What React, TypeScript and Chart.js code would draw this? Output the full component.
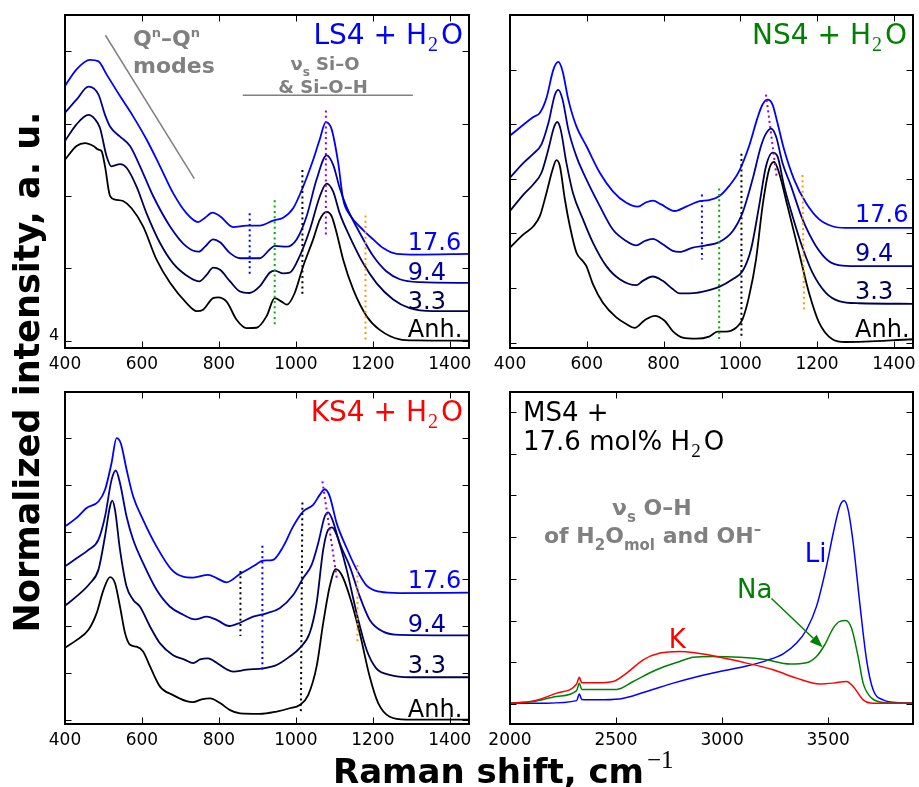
import React, { useEffect, useRef } from "react";
import { Chart, registerables } from "chart.js";
Chart.register(...registerables);

const SANS = "'DejaVu Sans', sans-serif";
const SERIF = "'Liberation Serif', serif";
const W = 919;
const H = 787;

// ---------- LS4 + H2O (top-left) ----------
const lsAnhX = [400,430,452,474,487,495,504,517,530,551,573,603,638,673,716,742,759,785,798,820,846,872,898,924,945,963,977,997,1019,1045,1062,1080,1093,1106,1123,1149,1184,1218,1270,1313,1450];
const lsAnhY = [2.50,2.69,2.73,2.69,2.64,2.62,2.41,2.00,1.95,1.93,1.83,1.58,1.12,0.80,0.52,0.41,0.43,0.59,0.60,0.54,0.29,0.175,0.18,0.34,0.59,0.54,0.50,0.66,1.03,1.40,1.67,1.78,1.72,1.49,1.12,0.71,0.34,0.15,0.02,0.005,0];
const ls33X = [400,430,461,478,491,508,521,543,560,586,612,647,681,725,749,768,785,803,829,855,880,906,932,945,967,984,1010,1036,1062,1080,1097,1114,1140,1175,1209,1253,1296,1357,1450];
const ls33Y = [2.76,2.99,3.12,3.06,2.94,2.55,2.41,2.44,2.39,2.13,1.76,1.35,1.07,0.87,0.82,0.91,1.01,0.98,0.82,0.68,0.66,0.75,0.94,0.97,0.93,0.94,1.17,1.53,1.99,2.17,2.06,1.76,1.44,1.07,0.80,0.57,0.45,0.41,0.41];
const ls94X = [400,430,461,487,504,517,543,569,595,629,673,716,748,764,785,803,829,855,906,932,945,976,1002,1028,1054,1080,1097,1114,1131,1166,1201,1235,1270,1322,1450];
const ls94Y = [3.15,3.33,3.51,3.40,3.12,2.96,2.82,2.69,2.41,2.00,1.58,1.30,1.23,1.30,1.40,1.36,1.21,1.14,1.14,1.26,1.31,1.30,1.40,1.72,2.23,2.56,2.43,2.11,1.86,1.49,1.17,0.96,0.85,0.81,0.80];
const ls176X = [400,430,465,487,508,543,577,612,647,681,716,746,764,783,803,837,872,906,941,967,993,1019,1045,1062,1078,1093,1110,1123,1140,1175,1201,1227,1262,1313,1450];
const ls176Y = [3.52,3.75,3.88,3.86,3.68,3.38,3.10,2.78,2.41,2.04,1.76,1.64,1.70,1.77,1.72,1.57,1.59,1.59,1.66,1.70,1.83,2.13,2.50,2.78,3.02,2.92,2.46,1.95,1.74,1.53,1.40,1.28,1.20,1.19,1.20];

// ---------- NS4 + H2O (top-right) ----------
const nsAnhX = [400,435,461,478,495,511,521,530,543,556,573,590,599,616,642,677,703,725,751,777,803,824,850,885,919,941,963,989,1006,1023,1041,1058,1075,1088,1101,1123,1153,1179,1205,1240,1274,1450];
const nsAnhY = [1.74,1.98,2.13,2.32,2.74,3.17,3.34,3.23,2.62,2.13,1.65,1.49,1.40,1.07,0.73,0.46,0.34,0.27,0.41,0.49,0.40,0.21,0.09,0.07,0.11,0.20,0.20,0.27,0.43,0.85,1.52,2.50,3.17,3.31,3.11,2.50,1.65,0.91,0.37,0.06,0.01,0.06];
const ns33X = [400,435,461,482,500,514,523,532,547,564,590,616,651,686,729,746,772,798,824,842,885,919,945,980,1006,1028,1049,1067,1084,1097,1114,1136,1162,1188,1223,1257,1309,1450];
const ns33Y = [2.41,2.71,2.90,3.11,3.54,3.93,4.04,3.90,3.29,2.74,2.26,1.83,1.40,1.16,1.05,1.13,1.21,1.13,0.98,0.90,0.91,0.96,1.02,1.16,1.31,1.71,2.50,3.23,3.48,3.41,2.87,2.32,1.74,1.28,0.91,0.76,0.72,0.71];
const ns94X = [400,435,461,482,500,517,526,537,552,573,599,634,668,703,729,751,772,798,824,842,876,911,945,980,1006,1032,1054,1068,1080,1093,1110,1132,1162,1197,1231,1266,1318,1450];
const ns94Y = [3.02,3.29,3.46,3.63,4.02,4.54,4.63,4.45,3.90,3.41,2.99,2.50,2.07,1.86,1.78,1.86,1.90,1.80,1.68,1.66,1.74,1.78,1.84,2.04,2.38,2.99,3.60,3.84,3.92,3.78,3.29,2.87,2.26,1.77,1.49,1.41,1.40,1.40];
const ns176X = [400,435,461,478,495,513,526,537,552,573,599,634,668,703,733,755,772,794,829,859,894,919,945,971,997,1023,1045,1058,1071,1084,1097,1114,1140,1171,1205,1240,1274,1450];
const ns176Y = [3.79,3.99,4.13,4.21,4.48,5.00,5.14,4.97,4.45,3.96,3.60,3.11,2.77,2.56,2.49,2.57,2.60,2.53,2.41,2.49,2.59,2.61,2.68,2.87,3.14,3.60,4.12,4.36,4.45,4.36,4.02,3.54,2.99,2.56,2.26,2.13,2.10,2.10];

// ---------- KS4 + H2O (bottom-left) ----------
const ksAnhX = [400,430,461,482,500,517,530,543,556,569,586,603,621,647,681,716,733,755,777,803,829,855,906,950,984,1010,1032,1054,1071,1088,1104,1119,1140,1166,1192,1214,1244,1287,1450];
const ksAnhY = [1.54,1.70,1.92,2.27,2.77,3.04,2.91,2.41,1.85,1.60,1.56,1.46,1.14,0.71,0.53,0.40,0.38,0.44,0.46,0.36,0.21,0.14,0.13,0.18,0.25,0.32,0.53,1.14,2.06,2.84,3.21,3.09,2.63,1.85,0.92,0.36,0.07,0.01,0.01];
const ks33X = [400,430,465,487,504,517,523,530,543,560,577,595,621,647,681,712,733,751,772,794,820,837,872,915,950,984,1010,1036,1054,1071,1084,1094,1106,1132,1158,1184,1209,1244,1296,1450];
const ks33Y = [2.43,2.63,2.91,3.20,3.91,4.55,4.67,4.47,3.62,2.84,2.56,2.41,1.99,1.63,1.38,1.28,1.21,1.29,1.31,1.22,1.08,1.03,1.07,1.10,1.17,1.35,1.53,1.85,2.49,3.62,4.05,4.10,3.94,3.20,2.27,1.49,1.10,0.96,0.91,0.91];
const ks94X = [400,430,461,487,504,521,532,543,560,577,603,638,673,707,738,768,794,827,855,889,924,958,993,1019,1041,1058,1075,1084,1095,1114,1140,1166,1192,1227,1270,1450];
const ks94Y = [3.27,3.44,3.62,3.84,4.33,5.11,5.31,5.04,4.33,3.84,3.34,2.77,2.41,2.24,2.14,2.20,2.13,2.00,2.07,2.20,2.27,2.38,2.66,3.02,3.30,3.76,4.33,4.42,4.26,3.76,3.27,2.63,2.13,1.88,1.81,1.80];
const ks176X = [400,430,456,487,504,521,534,545,560,577,603,638,677,707,733,772,794,820,855,889,915,941,967,993,1019,1045,1062,1075,1088,1106,1132,1158,1184,1218,1270,1450];
const ks176Y = [4.12,4.30,4.51,4.65,4.90,5.47,6.00,5.89,5.33,4.76,4.26,3.69,3.20,3.05,3.03,3.09,3.02,2.93,3.11,3.27,3.39,3.41,3.69,4.12,4.44,4.58,4.79,4.91,4.76,4.19,3.66,3.20,2.86,2.73,2.70,2.71];

// ---------- MS4 + 17.6 mol% H2O, O-H region (bottom-right) ----------
const liX = [2000,2173,2314,2327,2338,2408,2518,2644,2770,2895,2990,3115,3209,3288,3351,3398,3445,3492,3524,3555,3575,3594,3618,3649,3681,3712,3759,3838,3900];
const liY = [0.02,0.02,0.08,0.24,0.11,0.10,0.12,0.30,0.50,0.67,0.78,0.91,1.04,1.20,1.46,1.78,2.34,3.30,4.10,4.74,4.87,4.66,3.86,2.42,1.06,0.34,0.10,0.03,0.02];
const naX = [2000,2110,2220,2314,2327,2338,2408,2503,2581,2691,2801,2864,2958,3084,3209,3319,3398,3445,3484,3524,3555,3583,3610,3641,3665,3705,3775,3900];
const naY = [0.02,0.06,0.18,0.32,0.50,0.35,0.35,0.35,0.54,0.82,1.02,1.12,1.14,1.12,1.06,0.96,0.99,1.14,1.42,1.82,1.98,2.00,1.82,1.14,0.50,0.14,0.03,0.02];
const kX = [2000,2110,2220,2314,2327,2338,2408,2487,2550,2628,2707,2801,2880,2990,3115,3241,3351,3461,3524,3587,3618,3665,3712,3900];
const kY = [0.02,0.07,0.26,0.48,0.64,0.51,0.51,0.54,0.74,1.06,1.22,1.26,1.22,1.12,0.98,0.82,0.62,0.48,0.50,0.54,0.42,0.10,0.02,0.02];

// ---------- ticks and labels ----------
const silicateTicksX = [400, 600, 800, 1000, 1200, 1400];
const ohTicksX = [2000, 2500, 3000, 3500];
const lsTicksY = [0, 1, 2, 3, 4];
const nsTicksY = [0, 1, 2, 3, 4, 5];
const ksTicksY = [0, 1, 2, 3, 4, 5, 6];
const msTicksY = [0, 1, 2, 3, 4, 5, 6, 7];
const waterLabels = ["17.6", "9.4", "3.3", "Anh."];
const metalLabels = ["Li", "Na", "K"];

// marker lines (dotted) : [x0, x1], [y0, y1]
const lsMarkX = [[880, 880], [945, 945], [1017, 1017], [1078, 1078], [1181, 1181]];
const lsMarkY = [[1.76, 0.90], [1.94, 0.21], [2.36, 0.64], [3.18, 1.44], [1.73, 0.0]];
const nsMarkX = [[900, 900], [945, 945], [1003, 1003], [1067, 1095], [1162, 1166]];
const nsMarkY = [[2.71, 1.52], [2.82, 0.06], [3.46, 0.09], [4.54, 3.02], [3.07, 0.61]];
const ksMarkX = [[856, 856], [913, 913], [1017, 1013], [1069, 1107], [1160, 1160]];
const ksMarkY = [[3.17, 1.79], [3.71, 1.01], [4.63, 0.18], [5.08, 2.98], [3.30, 1.67]];

const M_BLUE = "#0000ff";
const M_GREEN = "#00b000";
const M_BLACK = "#000000";
const M_PURPLE = "#9400d3";
const M_ORANGE = "#ff9900";
const lsMarkC = [M_BLUE, M_GREEN, M_BLACK, M_PURPLE, M_ORANGE];
const nsMarkC = [M_BLUE, M_GREEN, M_BLACK, M_PURPLE, M_ORANGE];
const ksMarkC = [M_BLACK, M_BLUE, M_BLACK, M_PURPLE, M_ORANGE];

const C_ANH = "#000000";
const C_33 = "#000050";
const C_94 = "#0000a0";
const C_176 = "#0000ff";
const GRAY = "#808080";
const DASH = "\u2013";

type Seg = { t: string; size: number; weight?: string; family?: string; dy?: number; dx?: number };

function drawSegs(ctx: CanvasRenderingContext2D, segs: Seg[], x: number, y: number, align: string, color: string) {
  ctx.save();
  ctx.fillStyle = color;
  ctx.textBaseline = "alphabetic";
  ctx.textAlign = "left";
  const fontOf = (s: Seg) => `${s.weight || "normal"} ${s.size}px ${s.family || SANS}`;
  let total = 0;
  const widths = segs.map((s) => {
    ctx.font = fontOf(s);
    const w = ctx.measureText(s.t).width + (s.dx || 0);
    total += w;
    return w;
  });
  let cx = align === "left" ? x : align === "right" ? x - total : x - total / 2;
  segs.forEach((s, i) => {
    ctx.font = fontOf(s);
    ctx.fillText(s.t, cx + (s.dx || 0), y + (s.dy || 0));
    cx += widths[i];
  });
  ctx.restore();
}

const h2oTitle = (prefix: string): Seg[] => [
  { t: prefix + " + H", size: 28 },
  { t: "2", size: 20, family: SERIF, dy: 7, dx: 1 },
  { t: "O", size: 28, dx: 3 },
];

const pts = (xs: number[], ys: number[]) => xs.map((x, i) => ({ x, y: ys[i] }));

interface PanelCfg {
  rect: number[];
  xMin: number; xMax: number; yMin: number; yMax: number;
  xTicks: number[]; yTicks: number[];
  series: { x: number[]; y: number[]; color: string; width: number }[];
  marks: { x: number[]; y: number[]; color: string; dash: boolean; width: number }[];
  decorate: (ctx: CanvasRenderingContext2D, sx: any, sy: any, area: any) => void;
}

const TICK = 6.5;

function makeChart(canvas: HTMLCanvasElement, cfg: PanelCfg) {
  const [L, T, R, B] = cfg.rect;
  const datasets: any[] = [];
  cfg.marks.forEach((m) =>
    datasets.push({
      data: pts(m.x, m.y),
      borderColor: m.color,
      borderWidth: m.width,
      borderDash: m.dash ? [2, 3.3] : [],
      pointRadius: 0,
      tension: 0,
      fill: false,
    })
  );
  cfg.series.forEach((s) =>
    datasets.push({
      data: pts(s.x, s.y),
      borderColor: s.color,
      borderWidth: s.width,
      pointRadius: 0,
      cubicInterpolationMode: "monotone",
      borderJoinStyle: "round",
      fill: false,
    })
  );
  const deco = {
    id: "deco",
    afterDatasetsDraw(chart: any) {
      const ctx: CanvasRenderingContext2D = chart.ctx;
      const { left, right, top, bottom } = chart.chartArea;
      const sx = chart.scales.x;
      const sy = chart.scales.y;
      ctx.save();
      ctx.strokeStyle = "#000";
      ctx.lineWidth = 1;
      ctx.beginPath();
      cfg.xTicks.forEach((v) => {
        const p = Math.round(sx.getPixelForValue(v)) + 0.5;
        ctx.moveTo(p, bottom);
        ctx.lineTo(p, bottom - TICK);
        ctx.moveTo(p, top);
        ctx.lineTo(p, top + TICK);
      });
      cfg.yTicks.forEach((v) => {
        const p = Math.round(sy.getPixelForValue(v)) + 0.5;
        ctx.moveTo(left, p);
        ctx.lineTo(left + TICK, p);
        ctx.moveTo(right, p);
        ctx.lineTo(right - TICK, p);
      });
      ctx.stroke();
      ctx.lineWidth = 2;
      ctx.strokeRect(left, top, right - left, bottom - top);
      ctx.fillStyle = "#000";
      ctx.font = `17px ${SANS}`;
      ctx.textAlign = "center";
      ctx.textBaseline = "alphabetic";
      cfg.xTicks.forEach((v) => ctx.fillText(String(v), sx.getPixelForValue(v), bottom + 21));
      ctx.restore();
      cfg.decorate(ctx, sx, sy, chart.chartArea);
    },
  };
  return new Chart(canvas, {
    type: "line",
    data: { datasets },
    options: {
      responsive: false,
      animation: false,
      devicePixelRatio: 1,
      events: [],
      layout: { padding: { left: L, top: T, right: W - R, bottom: H - B } },
      plugins: { legend: { display: false }, tooltip: { enabled: false } },
      scales: {
        x: { type: "linear", display: false, min: cfg.xMin, max: cfg.xMax },
        y: { type: "linear", display: false, min: cfg.yMin, max: cfg.yMax },
      },
    },
    plugins: [deco],
  } as any);
}

const waterColors = [C_176, C_94, C_33, C_ANH];

function waterSeries(a: number[][], b: number[][], c: number[][], d: number[][]) {
  return [
    { x: a[0], y: a[1], color: C_ANH, width: 1.8 },
    { x: b[0], y: b[1], color: C_33, width: 1.8 },
    { x: c[0], y: c[1], color: C_94, width: 1.8 },
    { x: d[0], y: d[1], color: C_176, width: 1.8 },
  ];
}

function markSet(xs: number[][], ys: number[][], cs: string[]) {
  return xs.map((x, i) => ({ x, y: ys[i], color: cs[i], dash: true, width: 2 }));
}

function drawWaterLabels(ctx: CanvasRenderingContext2D, sx: any, sy: any, lx: number, ly: number[]) {
  ctx.save();
  ctx.font = `24px ${SANS}`;
  ctx.textAlign = "left";
  ctx.textBaseline = "alphabetic";
  waterLabels.forEach((t, i) => {
    ctx.fillStyle = waterColors[i];
    ctx.fillText(t, sx.getPixelForValue(lx), sy.getPixelForValue(ly[i]));
  });
  ctx.restore();
}

const lsCfg: PanelCfg = {
  rect: [65, 15, 469, 348],
  xMin: 400, xMax: 1450, yMin: -0.1, yMax: 4.5,
  xTicks: silicateTicksX, yTicks: lsTicksY,
  series: waterSeries([lsAnhX, lsAnhY], [ls33X, ls33Y], [ls94X, ls94Y], [ls176X, ls176Y]),
  marks: [
    ...markSet(lsMarkX, lsMarkY, lsMarkC),
    { x: [505, 736], y: [4.22, 2.24], color: GRAY, dash: false, width: 1.5 },
    { x: [862, 1304], y: [3.39, 3.39], color: GRAY, dash: false, width: 1.5 },
  ],
  decorate: (ctx, sx, sy, a) => {
    drawSegs(ctx, h2oTitle("LS4"), a.right - 6, a.top + 29, "right", "#0000ff");
    drawWaterLabels(ctx, sx, sy, 1291, [1.26, 0.84, 0.44, 0.05]);
    drawSegs(ctx, [
      { t: "Q", size: 22, weight: "bold" },
      { t: "n", size: 13, weight: "bold", dy: -9 },
      { t: DASH + "Q", size: 22, weight: "bold" },
      { t: "n", size: 13, weight: "bold", dy: -9 },
    ], 133, 46, "left", GRAY);
    drawSegs(ctx, [{ t: "modes", size: 22, weight: "bold" }], 133, 73, "left", GRAY);
    drawSegs(ctx, [
      { t: "\u03bd", size: 18, weight: "bold" },
      { t: "s", size: 12, weight: "bold", dy: 6 },
      { t: " Si" + DASH + "O", size: 18, weight: "bold" },
    ], 325, 70, "center", GRAY);
    drawSegs(ctx, [{ t: "& Si" + DASH + "O" + DASH + "H", size: 18, weight: "bold" }], 323, 93, "center", GRAY);
  },
};

const nsCfg: PanelCfg = {
  rect: [510, 15, 913, 348],
  xMin: 400, xMax: 1450, yMin: -0.1, yMax: 6.0,
  xTicks: silicateTicksX, yTicks: nsTicksY,
  series: waterSeries([nsAnhX, nsAnhY], [ns33X, ns33Y], [ns94X, ns94Y], [ns176X, ns176Y]),
  marks: markSet(nsMarkX, nsMarkY, nsMarkC),
  decorate: (ctx, sx, sy, a) => {
    drawSegs(ctx, h2oTitle("NS4"), a.right - 6, a.top + 29, "right", "#008000");
    drawWaterLabels(ctx, sx, sy, 1299, [2.20, 1.49, 0.79, 0.11]);
  },
};

const ksCfg: PanelCfg = {
  rect: [65, 392, 469, 724],
  xMin: 400, xMax: 1450, yMin: -0.085, yMax: 6.98,
  xTicks: silicateTicksX, yTicks: ksTicksY,
  series: waterSeries([ksAnhX, ksAnhY], [ks33X, ks33Y], [ks94X, ks94Y], [ks176X, ks176Y]),
  marks: markSet(ksMarkX, ksMarkY, ksMarkC),
  decorate: (ctx, sx, sy, a) => {
    drawSegs(ctx, h2oTitle("KS4"), a.right - 6, a.top + 29, "right", "#ff0000");
    drawWaterLabels(ctx, sx, sy, 1291, [2.80, 1.88, 0.99, 0.07]);
  },
};

const metalColors = ["#0000ff", "#008000", "#ff0000"];

const msCfg: PanelCfg = {
  rect: [510, 392, 913, 724],
  xMin: 2000, xMax: 3900, yMin: -0.48, yMax: 7.48,
  xTicks: ohTicksX, yTicks: msTicksY,
  series: [
    { x: kX, y: kY, color: metalColors[2], width: 1.5 },
    { x: naX, y: naY, color: metalColors[1], width: 1.5 },
    { x: liX, y: liY, color: metalColors[0], width: 1.5 },
  ],
  marks: [],
  decorate: (ctx, sx, sy, a) => {
    drawSegs(ctx, [{ t: "MS4 +", size: 26 }], a.left + 13, a.top + 29, "left", "#000");
    drawSegs(ctx, [
      { t: "17.6 mol% H", size: 26 },
      { t: "2", size: 19, family: SERIF, dy: 7, dx: 1 },
      { t: "O", size: 26, dx: 3 },
    ], a.left + 13, a.top + 58, "left", "#000");
    drawSegs(ctx, [
      { t: "\u03bd", size: 22, weight: "bold" },
      { t: "s", size: 15, weight: "bold", dy: 7 },
      { t: " O" + DASH + "H", size: 22, weight: "bold" },
    ], 612, 515, "left", GRAY);
    drawSegs(ctx, [
      { t: "of H", size: 22, weight: "bold" },
      { t: "2", size: 15, weight: "bold", dy: 7 },
      { t: "O", size: 22, weight: "bold" },
      { t: "mol", size: 15, weight: "bold", dy: 7 },
      { t: " and OH", size: 22, weight: "bold" },
      { t: DASH, size: 15, weight: "bold", dy: -9 },
    ], 544, 543, "left", GRAY);
    // metal labels
    const lx = [3390, 3070, 2749];
    const ly = [3.41, 2.54, 1.34];
    ctx.save();
    ctx.font = `26px ${SANS}`;
    ctx.textAlign = "left";
    ctx.textBaseline = "alphabetic";
    metalLabels.forEach((t, i) => {
      ctx.fillStyle = metalColors[i];
      ctx.fillText(t, sx.getPixelForValue(lx[i]), sy.getPixelForValue(ly[i]));
    });
    // arrow Na -> shoulder
    const x0 = sx.getPixelForValue(3233), y0 = sy.getPixelForValue(2.53);
    const x1 = sx.getPixelForValue(3474), y1 = sy.getPixelForValue(1.36);
    const ang = Math.atan2(y1 - y0, x1 - x0);
    const hl = 13, hw = 5;
    ctx.strokeStyle = "#008000";
    ctx.fillStyle = "#008000";
    ctx.lineWidth = 1.5;
    ctx.beginPath();
    ctx.moveTo(x0, y0);
    ctx.lineTo(x1 - hl * Math.cos(ang), y1 - hl * Math.sin(ang));
    ctx.stroke();
    ctx.beginPath();
    ctx.moveTo(x1, y1);
    ctx.lineTo(x1 - hl * Math.cos(ang) + hw * Math.sin(ang), y1 - hl * Math.sin(ang) - hw * Math.cos(ang));
    ctx.lineTo(x1 - hl * Math.cos(ang) - hw * Math.sin(ang), y1 - hl * Math.sin(ang) + hw * Math.cos(ang));
    ctx.closePath();
    ctx.fill();
    ctx.restore();
    // global axis labels
    ctx.save();
    ctx.fillStyle = "#000";
    ctx.font = `bold 35px ${SANS}`;
    ctx.textAlign = "center";
    ctx.textBaseline = "alphabetic";
    ctx.translate(39, 372);
    ctx.rotate(-Math.PI / 2);
    ctx.fillText("Normalized intensity, a. u.", 0, 0);
    ctx.restore();
    drawSegs(ctx, [
      { t: "Raman shift, cm", size: 34, weight: "bold" },
      { t: "\u22121", size: 25, family: SERIF, dy: -15, dx: 3 },
    ], 333, 783, "left", "#000");
    ctx.save();
    ctx.fillStyle = "#000";
    ctx.font = `16px ${SANS}`;
    ctx.textAlign = "left";
    ctx.fillText("4", 49, 340);
    ctx.restore();
  },
};

export default function App() {
  const r1 = useRef<HTMLCanvasElement>(null);
  const r2 = useRef<HTMLCanvasElement>(null);
  const r3 = useRef<HTMLCanvasElement>(null);
  const r4 = useRef<HTMLCanvasElement>(null);
  useEffect(() => {
    const charts = [
      makeChart(r1.current!, lsCfg),
      makeChart(r2.current!, nsCfg),
      makeChart(r3.current!, ksCfg),
      makeChart(r4.current!, msCfg),
    ];
    return () => charts.forEach((c) => c.destroy());
  }, []);
  const cs: React.CSSProperties = { position: "absolute", left: 0, top: 0, width: W, height: H };
  return (
    <div style={{ position: "absolute", left: 0, top: 0, width: W, height: H, background: "#fff", overflow: "hidden" }}>
      <canvas ref={r1} width={W} height={H} style={cs} />
      <canvas ref={r2} width={W} height={H} style={cs} />
      <canvas ref={r3} width={W} height={H} style={cs} />
      <canvas ref={r4} width={W} height={H} style={cs} />
    </div>
  );
}
